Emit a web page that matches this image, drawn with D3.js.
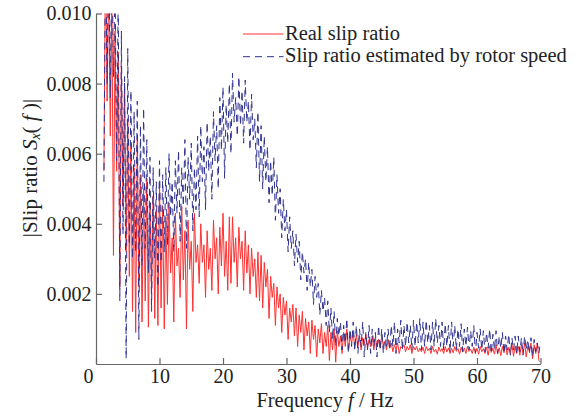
<!DOCTYPE html>
<html>
<head>
<meta charset="utf-8">
<script src="https://cdn.jsdelivr.net/npm/d3@7"></script>
<style>
    body { margin: 0; background: #fff; }
    svg { display: block; font-family: 'Liberation Serif', 'Times New Roman', serif; }
    .axis path, .axis line { stroke: #666; stroke-width: 1.2; }
    .axis text { font-family: 'Liberation Serif', serif; font-size: 20px; fill: #222; }
    .label { font-family: 'Liberation Serif', serif; font-size: 20.5px; fill: #222; }
</style>
</head>
<body>
<svg id="chart" width="582" height="418"></svg>
<script>
// spectrum bins: 1.25 Hz .. 70 Hz, every 0.25 Hz
const FREQ_START = 1.25;
const FREQ_STEP = 0.25;

// |S_x(f)| of the real slip ratio
const realSlip = [
    0.0055, 0.012, 0.0075, 0.011, 0.0065, 0.0105, 0.0031, 0.0095, 0.0055, 0.0089, 0.0022, 0.0085, 0.0045, 0.008, 0.0032, 0.007, 0.0025, 0.0062, 0.0015, 0.0056,
    0.0009, 0.0064, 0.0022, 0.0054, 0.0012, 0.005, 0.0018, 0.0053, 0.00105, 0.0046, 0.002, 0.0048, 0.0013, 0.0044, 0.0011, 0.0052, 0.0016, 0.0045, 0.001, 0.0042,
    0.0017, 0.0046, 0.0026, 0.0036, 0.0012, 0.0043, 0.0028, 0.0033, 0.0019, 0.0045, 0.0024, 0.0038, 0.001, 0.0041, 0.0027, 0.0035, 0.0015, 0.0043, 0.0029, 0.0034,
    0.0023, 0.004, 0.0029, 0.0034, 0.0019, 0.0038, 0.0027, 0.0033, 0.0021, 0.0041, 0.003, 0.0036, 0.002, 0.0039, 0.0028, 0.0043, 0.0025, 0.0035, 0.0021, 0.0042,
    0.0023, 0.0042, 0.0029, 0.0036, 0.0022, 0.0039, 0.003, 0.0035, 0.0021, 0.0038, 0.0026, 0.0034, 0.002, 0.0033, 0.0025, 0.003, 0.0019, 0.0032, 0.0018, 0.0031,
    0.0016, 0.0029, 0.0022, 0.0027, 0.0013, 0.0025, 0.0019, 0.0023, 0.0011, 0.0022, 0.0016, 0.002, 0.0009, 0.0019, 0.0014, 0.0018, 0.0007, 0.0016, 0.0012, 0.0017,
    0.0008, 0.0016, 0.0005, 0.0014, 0.0009, 0.0015, 0.0004, 0.0013, 0.0008, 0.0012, 0.0003, 0.00125, 0.0007, 0.0011, 0.0002, 0.001, 0.0006, 0.00115, 0.0003, 0.0009,
    0.0005, 0.0011, 0.0001, 0.0009, 0.0004, 0.001, 0.00005, 0.00095, 0.0005, 0.0008, 0.0003, 0.0009, 0.0005, 0.001, 0.0004, 0.0008, 0.0006, 0.0009, 0.00045, 0.00085,
    0.0005, 0.0008, 0.0004, 0.00075, 0.00055, 0.00085, 0.00045, 0.0007, 0.0005, 0.0008, 0.0004, 0.00075, 0.0005, 0.0007, 0.00045, 0.0008, 0.0005, 0.00065, 0.0004, 0.0007,
    0.00045, 0.0006, 0.00035, 0.00055, 0.0004, 0.0006, 0.0003, 0.0005, 0.00045, 0.00055, 0.00035, 0.0005, 0.0004, 0.00055, 0.0003, 0.0005, 0.0004, 0.0005, 0.00035, 0.00045,
    0.00035, 0.00048, 0.0003, 0.0005, 0.00038, 0.00045, 0.0003, 0.0005, 0.00035, 0.00042, 0.00028, 0.00048, 0.00036, 0.00044, 0.0003, 0.0005, 0.00034, 0.00046, 0.0003, 0.00045,
    0.00032, 0.0005, 0.00036, 0.00044, 0.00028, 0.00048, 0.00034, 0.00046, 0.0003, 0.0005, 0.00036, 0.00042, 0.0003, 0.00048, 0.00032, 0.00045, 0.00028, 0.0005, 0.00035, 0.00044,
    0.0003, 0.00048, 0.00025, 0.00052, 0.00033, 0.00045, 0.00028, 0.00055, 0.0003, 0.00046, 0.00024, 0.0005, 0.00032, 0.00055, 0.00026, 0.00048, 0.0003, 0.00056, 0.00022, 0.0005,
    0.0003, 0.0005, 0.00025, 0.00055, 0.0003, 0.0006, 0.0002, 0.0005, 0.00035, 0.0006, 0.00015, 0.00055, 0.0003, 0.0006, 0.0001, 0.00005
];

// |S_x(f)| of the slip ratio estimated by rotor speed
const estSlip = [
    0.0052, 0.012, 0.008, 0.012, 0.0076, 0.012, 0.0082, 0.011, 0.0058, 0.0105, 0.0018, 0.0095, 0.0037, 0.0082, 0.00015, 0.009, 0.0034, 0.0078, 0.003, 0.0072,
    0.0032, 0.0075, 0.0007, 0.0068, 0.0028, 0.0073, 0.0033, 0.0064, 0.0026, 0.0059, 0.0015, 0.0056, 0.003, 0.0052, 0.0022, 0.0058, 0.0029, 0.0054, 0.0032, 0.0056,
    0.0034, 0.006, 0.0042, 0.0052, 0.0032, 0.0058, 0.0043, 0.0061, 0.0035, 0.0056, 0.0045, 0.0064, 0.0033, 0.0059, 0.0047, 0.0063, 0.0038, 0.0056, 0.0044, 0.0065,
    0.0042, 0.0068, 0.0052, 0.0062, 0.0044, 0.0069, 0.0055, 0.0065, 0.0047, 0.0072, 0.0058, 0.0068, 0.005, 0.0076, 0.0061, 0.0079, 0.0053, 0.0074, 0.0063, 0.008,
    0.006, 0.0083, 0.0069, 0.0076, 0.0065, 0.0082, 0.0068, 0.0078, 0.0063, 0.0081, 0.0069, 0.0075, 0.0061, 0.0077, 0.0064, 0.007, 0.0056, 0.0072, 0.0052, 0.0068,
    0.005, 0.0065, 0.0052, 0.0062, 0.0046, 0.0058, 0.0048, 0.0059, 0.0041, 0.0054, 0.0043, 0.005, 0.0036, 0.0047, 0.0038, 0.0044, 0.0032, 0.0042, 0.0033, 0.0038,
    0.0028, 0.0037, 0.0029, 0.0035, 0.0024, 0.0032, 0.0026, 0.003, 0.0021, 0.0029, 0.0022, 0.0027, 0.0017, 0.0025, 0.0019, 0.0023, 0.0014, 0.0021, 0.0015, 0.0019,
    0.0011, 0.0018, 0.0009, 0.0016, 0.0007, 0.0015, 0.0005, 0.0013, 0.0008, 0.0012, 0.0004, 0.0011, 0.0006, 0.0013, 0.0003, 0.001, 0.0005, 0.0012, 0.0004, 0.0011,
    0.0003, 0.001, 0.0005, 0.0012, 0.0002, 0.0009, 0.0004, 0.0011, 0.0003, 0.001, 0.0005, 0.0009, 0.0002, 0.0011, 0.0004, 0.001, 0.0003, 0.0009, 0.0005, 0.001,
    0.0004, 0.0011, 0.0005, 0.0012, 0.0003, 0.001, 0.0006, 0.00125, 0.0004, 0.0011, 0.0005, 0.0012, 0.0006, 0.0011, 0.0004, 0.00125, 0.0005, 0.0012, 0.0006, 0.0013,
    0.0004, 0.0012, 0.0005, 0.00125, 0.0006, 0.0011, 0.0004, 0.0012, 0.0005, 0.0013, 0.0006, 0.0011, 0.0005, 0.0012, 0.0004, 0.00115, 0.0005, 0.0011, 0.00035, 0.0012,
    0.0005, 0.0011, 0.0004, 0.001, 0.0005, 0.00115, 0.00035, 0.001, 0.0005, 0.00105, 0.0004, 0.00095, 0.0005, 0.0011, 0.0003, 0.0009, 0.00045, 0.001, 0.0004, 0.00095,
    0.00035, 0.0009, 0.00045, 0.001, 0.0003, 0.00085, 0.0004, 0.00095, 0.0003, 0.0008, 0.00045, 0.0009, 0.0003, 0.0008, 0.0004, 0.00085, 0.00025, 0.00075, 0.0004, 0.0008,
    0.0003, 0.0008, 0.00035, 0.00075, 0.00025, 0.0008, 0.0004, 0.0007, 0.0003, 0.00075, 0.0002, 0.0007, 0.00035, 0.0006, 0.0003, 0.00065
];

const xTicks = [0, 10, 20, 30, 40, 50, 60, 70];
const yTicks = [0.002, 0.004, 0.006, 0.008, 0.010];
const seriesNames = ['Real slip ratio', 'Slip ratio estimated by rotor speed'];

const svg = d3.select('#chart');
const plotLeft = 96, plotRight = 540.5, plotTop = 13.5, plotBottom = 364;

const x = d3.scaleLinear().domain([0, 70]).range([plotLeft, plotRight]);
const y = d3.scaleLinear().domain([0, 0.010]).range([plotBottom, plotTop]);

const freqs = realSlip.map((_, i) => FREQ_START + i * FREQ_STEP);

svg.append('clipPath')
    .attr('id', 'plot-clip')
    .append('rect')
    .attr('x', plotLeft)
    .attr('y', plotTop)
    .attr('width', plotRight - plotLeft)
    .attr('height', plotBottom - plotTop);

const line = d3.line()
    .x((d, i) => x(freqs[i]))
    .y(d => y(d));

const plot = svg.append('g').attr('clip-path', 'url(#plot-clip)');

plot.append('path')
    .datum(realSlip)
    .attr('d', line)
    .attr('fill', 'none')
    .attr('stroke', '#ff3030')
    .attr('stroke-width', 1);

plot.append('path')
    .datum(estSlip)
    .attr('d', line)
    .attr('fill', 'none')
    .attr('stroke', '#2e3190')
    .attr('stroke-width', 1)
    .attr('stroke-dasharray', '7,5');

// axes, ticks pointing inside
const xAxis = svg.append('g')
    .attr('class', 'axis')
    .attr('transform', `translate(0,${plotBottom})`)
    .call(d3.axisBottom(x).tickValues(xTicks).tickSizeInner(-6).tickSizeOuter(0).tickPadding(5));
xAxis.selectAll('.tick text')
    .filter(d => d === 0)
    .attr('dx', -8);

svg.append('g')
    .attr('class', 'axis')
    .attr('transform', `translate(${plotLeft},0)`)
    .call(d3.axisLeft(y).tickValues(yTicks).tickFormat(d3.format('.3f')).tickSizeInner(-6).tickSizeOuter(0).tickPadding(4.5));

// axis titles
const xTitle = svg.append('text')
    .attr('class', 'label')
    .attr('x', 325)
    .attr('y', 406.5)
    .attr('text-anchor', 'middle');
xTitle.append('tspan').text('Frequency ');
xTitle.append('tspan').style('font-style', 'italic').text('f');
xTitle.append('tspan').text(' / Hz');

const yTitle = svg.append('text')
    .attr('class', 'label')
    .attr('transform', 'translate(37,168) rotate(-90)')
    .attr('text-anchor', 'middle')
    .style('font-size', '21px');
yTitle.append('tspan').text('|Slip ratio ');
yTitle.append('tspan').style('font-style', 'italic').text('S');
yTitle.append('tspan').style('font-style', 'italic').style('font-size', '14px').attr('dy', 3).text('x');
yTitle.append('tspan').attr('dy', -3).text('(');
yTitle.append('tspan').style('font-style', 'italic').text(' f ');
yTitle.append('tspan').text(')|');

// legend
const legendColors = ['#ff3030', '#2e3190'];
const legendDash = [null, '7,5'];
const legend = svg.append('g');
seriesNames.forEach((name, i) => {
    const ly = 34 + i * 22.7;
    legend.append('line')
        .attr('x1', 243).attr('x2', 283.5)
        .attr('y1', ly).attr('y2', ly)
        .attr('stroke', legendColors[i])
        .attr('stroke-width', 1)
        .attr('stroke-dasharray', legendDash[i]);
    legend.append('text')
        .attr('class', 'label')
        .attr('x', 285)
        .attr('y', ly + 5.5)
        .text(name);
});
</script>
</body>
</html>
